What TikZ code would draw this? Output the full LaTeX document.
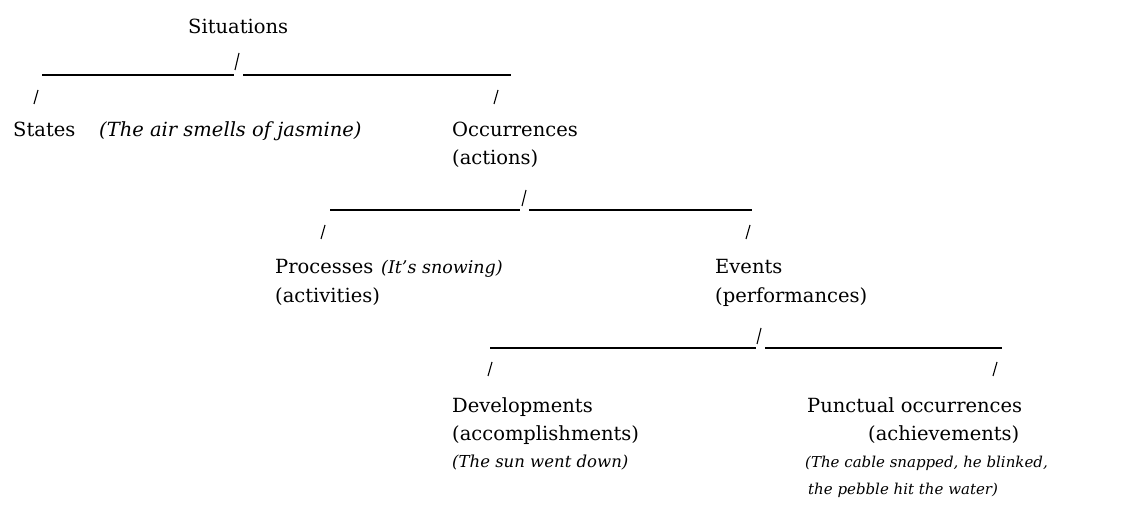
\documentclass[tikz,border=0pt]{standalone}
\usepackage{fontspec}
\setmainfont{DejaVu Serif}
\begin{document}
\begin{tikzpicture}[x=1pt,y=-1pt,
  lbl/.style={anchor=base west,inner sep=0pt,font=\fontsize{19.5}{24}\selectfont},
  ex/.style={anchor=base west,inner sep=0pt,font=\fontsize{19.5}{24}\selectfont\itshape},
  exs/.style={anchor=base west,inner sep=0pt,font=\fontsize{16.5}{20}\selectfont\itshape},
  exn/.style={anchor=base west,inner sep=0pt,font=\fontsize{15}{18}\selectfont\itshape},
  rule/.style={line width=1.1pt},
  slash/.style={line width=1.1pt}]
\useasboundingbox[fill=white] (0,0) rectangle (1123,510);
% texts
\node[lbl] (sit) at (188,34) {Situations};
\node[lbl] (sta) at (13,137) {States};
\node[ex]  (staex) at (99,137) {(The air smells of jasmine)};
\node[lbl] (occ) at (452,137) {Occurrences};
\node[lbl] (occ2) at (452,165) {(actions)};
\node[lbl] (pro) at (275,274) {Processes};
\node[exs,font=\fontsize{17.5}{21}\selectfont\itshape] (proex) at (381,274) {(It's snowing)};
\node[lbl] (pro2) at (275,302) {(activities)};
\node[lbl] (eve) at (715,274) {Events};
\node[lbl] (eve2) at (715,302) {(performances)};
\node[lbl] (dev) at (452,412) {Developments};
\node[lbl] (dev2) at (452,440) {(accomplishments)};
\node[exs] (devex) at (452,467) {(The sun went down)};
\node[lbl] (pun) at (807,412) {Punctual occurrences};
\node[lbl] (pun2) at (868,440) {(achievements)};
\node[exn] (punex) at (805,467) {(The cable snapped, he blinked,};
\node[exn] (punex2) at (808,494) {the pebble hit the water)};
% level 1
\coordinate (s1a) at (235,70); \coordinate (s1b) at (239,53);
\coordinate (l1a) at (42,75); \coordinate (l1b) at (234,75);
\coordinate (l1c) at (243,75); \coordinate (l1d) at (511,75);
\coordinate (s1la) at (34,104); \coordinate (s1lb) at (38,90);
\coordinate (s1ra) at (494,104); \coordinate (s1rb) at (498,90);
\draw[slash] (s1a) -- (s1b);
\draw[rule] (l1a) -- (l1b);
\draw[rule] (l1c) -- (l1d);
\draw[slash] (s1la) -- (s1lb);
\draw[slash] (s1ra) -- (s1rb);
% level 2
\coordinate (s2a) at (522,206); \coordinate (s2b) at (526,190);
\coordinate (l2a) at (330,210); \coordinate (l2b) at (520,210);
\coordinate (l2c) at (529,210); \coordinate (l2d) at (752,210);
\coordinate (s2la) at (321,239); \coordinate (s2lb) at (325,225);
\coordinate (s2ra) at (746,239); \coordinate (s2rb) at (750,225);
\draw[slash] (s2a) -- (s2b);
\draw[rule] (l2a) -- (l2b);
\draw[rule] (l2c) -- (l2d);
\draw[slash] (s2la) -- (s2lb);
\draw[slash] (s2ra) -- (s2rb);
% level 3
\coordinate (s3a) at (757,344); \coordinate (s3b) at (761,328);
\coordinate (l3a) at (490,348); \coordinate (l3b) at (756,348);
\coordinate (l3c) at (765,348); \coordinate (l3d) at (1002,348);
\coordinate (s3la) at (488,376); \coordinate (s3lb) at (492,362);
\coordinate (s3ra) at (993,376); \coordinate (s3rb) at (997,362);
\draw[slash] (s3a) -- (s3b);
\draw[rule] (l3a) -- (l3b);
\draw[rule] (l3c) -- (l3d);
\draw[slash] (s3la) -- (s3lb);
\draw[slash] (s3ra) -- (s3rb);
\end{tikzpicture}
\end{document}
